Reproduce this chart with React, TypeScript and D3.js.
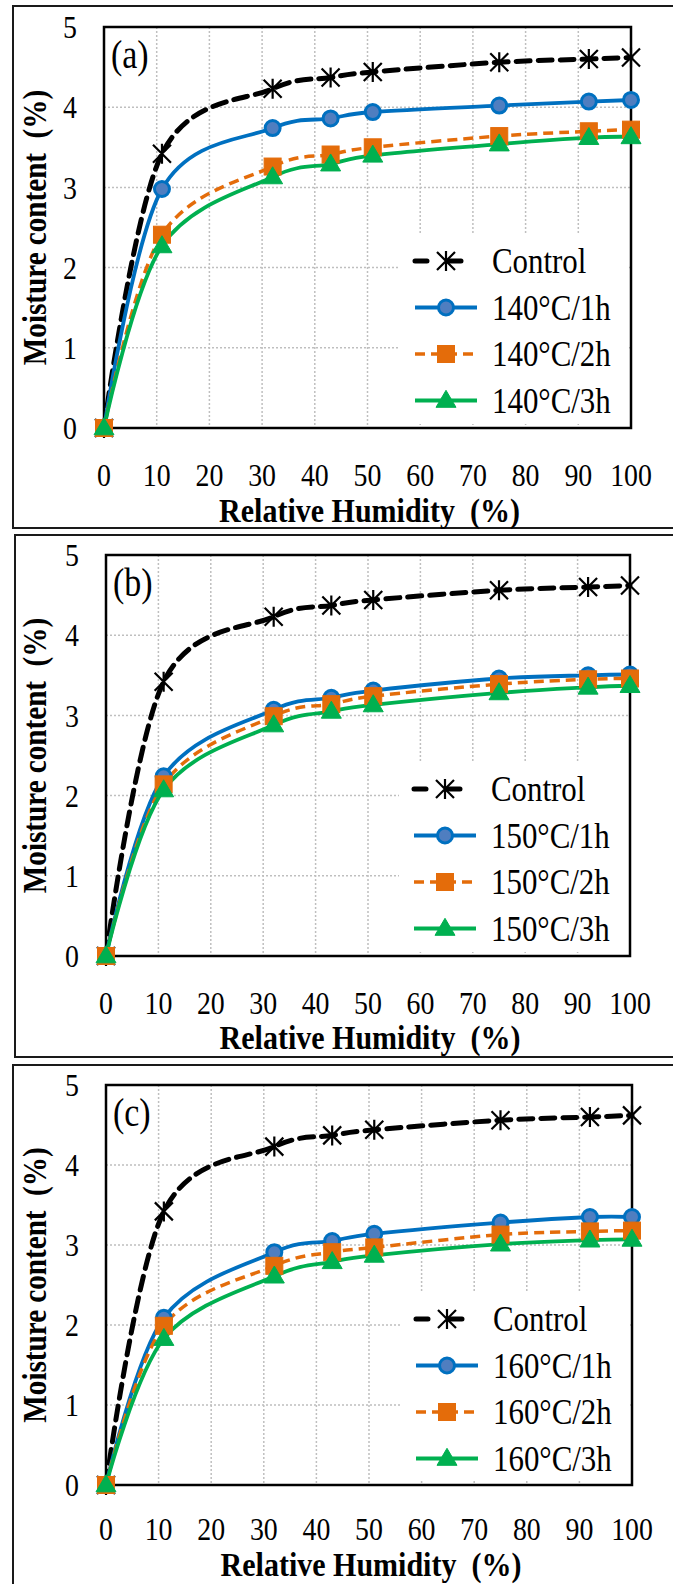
import React from "react";
import * as d3 from "d3";

// ---- data ----
const rh = [0, 11, 32, 43, 51, 75, 92, 100];
const xTicks = [0, 10, 20, 30, 40, 50, 60, 70, 80, 90, 100];
const yTicks = [0, 1, 2, 3, 4, 5];

const control = [0, 3.42, 4.23, 4.37, 4.44, 4.56, 4.6, 4.62];
const t140_1h = [0, 2.98, 3.74, 3.86, 3.94, 4.02, 4.07, 4.09];
const t140_2h = [0, 2.41, 3.26, 3.41, 3.5, 3.64, 3.7, 3.72];
const t140_3h = [0, 2.27, 3.13, 3.29, 3.4, 3.54, 3.62, 3.63];
const t150_1h = [0, 2.24, 3.07, 3.22, 3.31, 3.46, 3.5, 3.51];
const t150_2h = [0, 2.14, 2.99, 3.14, 3.24, 3.39, 3.45, 3.46];
const t150_3h = [0, 2.07, 2.88, 3.05, 3.13, 3.28, 3.35, 3.37];
const t160_1h = [0, 2.09, 2.91, 3.05, 3.14, 3.28, 3.35, 3.35];
const t160_2h = [0, 1.99, 2.74, 2.91, 2.97, 3.13, 3.17, 3.18];
const t160_3h = [0, 1.83, 2.61, 2.79, 2.87, 3.01, 3.06, 3.07];

const panelLabels = ["(a)", "(b)", "(c)"];
const temps = ["140", "150", "160"];
const panelSeries = [
  [control, t140_1h, t140_2h, t140_3h],
  [control, t150_1h, t150_2h, t150_3h],
  [control, t160_1h, t160_2h, t160_3h],
];

// ---- layout ----
const W = 673;
const H = 1584;
const layouts = [
  { box: { x: 13, y: 6, h: 522 }, plot: { l: 104, r: 631, t: 27, b: 428 }, tickDy: 47, titleDy: 82 },
  { box: { x: 15, y: 535, h: 522 }, plot: { l: 106, r: 630, t: 555, b: 956 }, tickDy: 47, titleDy: 81 },
  { box: { x: 13, y: 1065, h: 540 }, plot: { l: 106, r: 632, t: 1085, b: 1485 }, tickDy: 44, titleDy: 79 },
];

const FONT = "'Liberation Serif', 'Times New Roman', serif";
const SX = 0.87; // horizontal condensing of the text, as in the reference
const BLUE = "#0070C0";
const BLUE_FILL = "#4F7EC0";
const ORANGE = "#E46C0A";
const GREEN = "#00B050";

type Style = {
  color: string;
  width: number;
  dash?: string;
  marker: "star" | "circle" | "square" | "triangle";
};
const styles: Style[] = [
  { color: "#000", width: 5, dash: "14 8", marker: "star" },
  { color: BLUE, width: 3.8, marker: "circle" },
  { color: ORANGE, width: 3.5, dash: "10 6", marker: "square" },
  { color: GREEN, width: 3.8, marker: "triangle" },
];

function Txt({
  x,
  y,
  size,
  anchor = "start",
  bold = false,
  rotate = 0,
  children,
}: {
  x: number;
  y: number;
  size: number;
  anchor?: string;
  bold?: boolean;
  rotate?: number;
  children: React.ReactNode;
}) {
  const tf = rotate
    ? `translate(${x},${y}) rotate(${rotate}) scale(${SX},1)`
    : `translate(${x},${y}) scale(${SX},1)`;
  return (
    <text
      transform={tf}
      textAnchor={anchor}
      dominantBaseline="central"
      fontFamily={FONT}
      fontSize={size}
      fontWeight={bold ? "bold" : "normal"}
      fill="#000"
    >
      {children}
    </text>
  );
}

function Marker({ kind, x, y }: { kind: Style["marker"]; x: number; y: number }) {
  if (kind === "star") {
    const s = 9;
    return (
      <path
        d={`M${x - s},${y - s}L${x + s},${y + s}M${x - s},${y + s}L${x + s},${y - s}M${x},${y - s - 1}L${x},${y + s + 1}`}
        stroke="#000"
        strokeWidth={2.2}
        fill="none"
      />
    );
  }
  if (kind === "circle") {
    return <circle cx={x} cy={y} r={7.5} fill={BLUE_FILL} stroke={BLUE} strokeWidth={3} />;
  }
  if (kind === "square") {
    const s = 8.5;
    return <rect x={x - s} y={y - s} width={2 * s} height={2 * s} fill={ORANGE} stroke={ORANGE} strokeWidth={1} />;
  }
  const b = 10;
  const h = 17;
  return (
    <path
      d={`M${x},${y - h * 0.6}L${x + b},${y + h * 0.4}L${x - b},${y + h * 0.4}Z`}
      fill={GREEN}
      stroke={GREEN}
      strokeWidth={1}
    />
  );
}

function Panel({ idx }: { idx: number }) {
  const { box, plot, tickDy, titleDy } = layouts[idx];
  const x = d3.scaleLinear().domain([0, 100]).range([plot.l, plot.r]);
  const y = d3.scaleLinear().domain([0, 5]).range([plot.b, plot.t]);
  const line = d3
    .line<[number, number]>()
    .x((d) => x(d[0]))
    .y((d) => y(d[1]))
    .curve(d3.curveCardinal.tension(0));
  const series = panelSeries[idx];
  const names = ["Control", `${temps[idx]}°C/1h`, `${temps[idx]}°C/2h`, `${temps[idx]}°C/3h`];

  const legX0 = plot.r - 216;
  const legX1 = plot.r - 154;
  const legMid = (legX0 + legX1) / 2;
  const legText = plot.r - 139;
  const legY0 = plot.t + 234;
  const legDy = 46.5;

  return (
    <g>
      <rect x={box.x} y={box.y} width={W + 20} height={box.h} fill="#fff" stroke="#1a1a1a" strokeWidth={2} />
      {/* gridlines */}
      {xTicks.map((t) => (
        <line key={"gx" + t} x1={x(t)} x2={x(t)} y1={plot.t} y2={plot.b} stroke="#BFBFBF" strokeWidth={1.5} strokeDasharray="2 2" />
      ))}
      {yTicks.map((t) => (
        <line key={"gy" + t} x1={plot.l} x2={plot.r} y1={y(t)} y2={y(t)} stroke="#BFBFBF" strokeWidth={1.5} strokeDasharray="2 2" />
      ))}
      {/* legend background */}
      <rect x={plot.r - 231} y={plot.t + 208} width={229} height={plot.b - plot.t - 212} fill="#fff" />
      <rect x={plot.l} y={plot.t} width={plot.r - plot.l} height={plot.b - plot.t} fill="none" stroke="#000" strokeWidth={2.5} />
      {/* tick labels */}
      {yTicks.map((t) => (
        <Txt key={"ty" + t} x={plot.l - 34} y={y(t)} size={32} anchor="middle">
          {t}
        </Txt>
      ))}
      {xTicks.map((t) => (
        <Txt key={"tx" + t} x={x(t)} y={plot.b + tickDy} size={32} anchor="middle">
          {t}
        </Txt>
      ))}
      {/* axis titles */}
      <Txt x={(plot.l + plot.r) / 2 + 2} y={plot.b + titleDy} size={34.5} anchor="middle" bold>
        {"Relative Humidity\u00A0 (%)"}
      </Txt>
      <Txt x={35} y={(plot.t + plot.b) / 2} size={33.5} anchor="middle" bold rotate={-90}>
        {"Moisture content\u00A0 (%)"}
      </Txt>
      <Txt x={plot.l + 7} y={plot.t + 28} size={39}>
        {panelLabels[idx]}
      </Txt>
      {/* series lines */}
      {series.map((vals, si) => {
        const st = styles[si];
        const pts = rh.map((r, i) => [r, vals[i]] as [number, number]);
        return (
          <path key={"l" + si} d={line(pts) || ""} fill="none" stroke={st.color} strokeWidth={st.width} strokeDasharray={st.dash} strokeLinecap={si === 0 ? "round" : "butt"} />
        );
      })}
      {series.map((vals, si) => (
        <g key={"m" + si}>
          {rh.map((r, i) => (
            <Marker key={i} kind={styles[si].marker} x={x(r)} y={y(vals[i])} />
          ))}
        </g>
      ))}
      {/* legend */}
      {names.map((n, i) => {
        const st = styles[i];
        const ly = legY0 + i * legDy;
        return (
          <g key={"lg" + i}>
            <line x1={legX0} x2={legX1} y1={ly} y2={ly} stroke={st.color} strokeWidth={st.width} strokeDasharray={i === 0 ? "12 22" : st.dash} strokeLinecap={i === 0 ? "round" : "butt"} />
            <Marker kind={st.marker} x={legMid} y={ly} />
            <Txt x={legText} y={ly} size={35.5}>
              {n}
            </Txt>
          </g>
        );
      })}
    </g>
  );
}

export default function App() {
  return (
    <svg width={W} height={H} style={{ position: "absolute", left: 0, top: 0, background: "#fff" }}>
      <rect width={W} height={H} fill="#fff" />
      {[0, 1, 2].map((i) => (
        <Panel key={i} idx={i} />
      ))}
    </svg>
  );
}
